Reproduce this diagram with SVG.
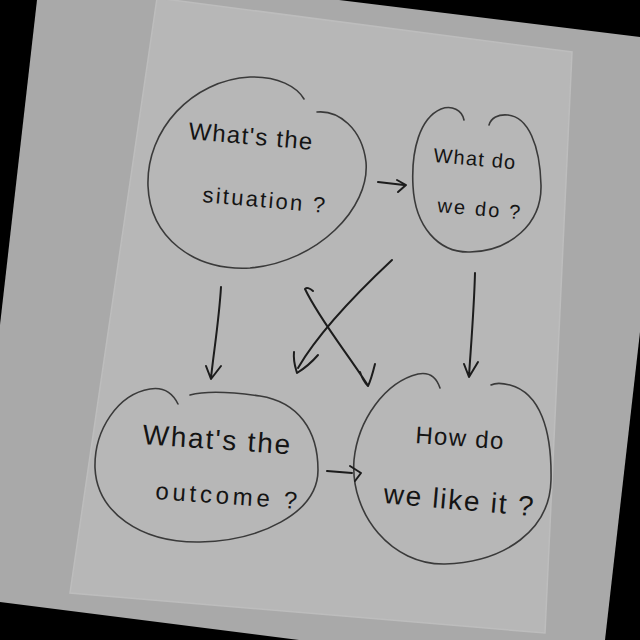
<svg xmlns="http://www.w3.org/2000/svg" width="640" height="640" viewBox="0 0 640 640">
<style>
.bubble{fill:none;stroke:#3a3a3a;stroke-width:1.6;stroke-linecap:round;stroke-linejoin:round}
.arrow{fill:none;stroke:#1c1c1c;stroke-width:2;stroke-linecap:round;stroke-linejoin:round}
.label{font-family:"Liberation Sans",Arial,sans-serif;fill:#141414}
</style>
<rect x="0" y="0" width="640" height="640" fill="#000"/>
<polygon points="37,0 339,0 640,37 640,332 605,640 299,640 0,602 0,325" fill="#a9a9a9"/>
<polygon points="157,-2 572,52 545,633 70,593" fill="#b7b7b7" stroke="#bdbdbd" stroke-width="1.5"/>

<g id="situation">
<path class="bubble" d="M317,112 C338,110 362,128 366,162 C370,208 318,262 250,268 C193,271 150,237 148,186 C146,130 192,80 250,77 C278,76 297,87 304,99"/>
<text class="label" x="188" y="139" font-size="24" textLength="124" lengthAdjust="spacing" transform="rotate(5 188 139)">What's the</text>
<text class="label" x="202" y="202" font-size="22" textLength="123" lengthAdjust="spacing" transform="rotate(5 202 202)">situation ?</text>
</g>

<g id="whatdo">
<path class="bubble" d="M464,120 C462,110 452,105 441,109 C420,118 411,150 413,186 C415,226 438,253 470,252 C510,251 542,224 541,185 C540,145 528,117 508,115 C498,114 491,118 489,125"/>
<text class="label" x="433" y="162" font-size="20" textLength="82" lengthAdjust="spacing" transform="rotate(5 433 162)">What do</text>
<text class="label" x="437" y="212" font-size="20" textLength="83" lengthAdjust="spacing" transform="rotate(5 437 212)">we do ?</text>
</g>

<g id="outcome">
<path class="bubble" d="M178,404 C172,392 162,387 150,389 C118,394 94,430 95,468 C97,512 140,543 200,542 C258,541 318,514 318,470 C318,430 298,402 260,396 C232,392 205,391 190,395"/>
<text class="label" x="142" y="444" font-size="28" textLength="148" lengthAdjust="spacing" transform="rotate(4 142 444)">What's the</text>
<text class="label" x="155" y="499" font-size="24" textLength="142" lengthAdjust="spacing" transform="rotate(4 155 499)">outcome ?</text>
</g>

<g id="likeit">
<path class="bubble" d="M440,388 C436,376 428,372 418,374 C385,382 358,420 354,460 C350,515 392,565 445,564 C505,562 550,530 551,480 C552,430 540,393 510,385 C502,383 495,383 491,385"/>
<text class="label" x="415" y="443" font-size="24" textLength="88" lengthAdjust="spacing" transform="rotate(4 415 443)">How do</text>
<text class="label" x="383" y="503" font-size="28" textLength="150" lengthAdjust="spacing" transform="rotate(5 383 503)">we like it ?</text>
</g>

<g id="connectors">
<path class="arrow" d="M378,182 L404,185 M397,180 L406,185 L398,192"/>
<path class="arrow" d="M327,471 L352,473 M350,466 L361,473 L355,481"/>
<path class="arrow" d="M221,287 C219,320 214,350 211,378 M206,366 L211,379 L221,366"/>
<path class="arrow" d="M475,273 C474,310 471,345 469,376 M464,364 L469,377 L478,362"/>
<path class="arrow" d="M392,260 C360,290 320,330 298,368 M294,352 C293,362 296,369 297,373 C305,368 312,362 318,355"/>
<path class="arrow" d="M313,291 C310,288 306,287 305,289 C320,320 345,350 367,384 M360,372 C362,378 365,383 368,386 C371,380 373,372 375,364"/>
</g>
</svg>
